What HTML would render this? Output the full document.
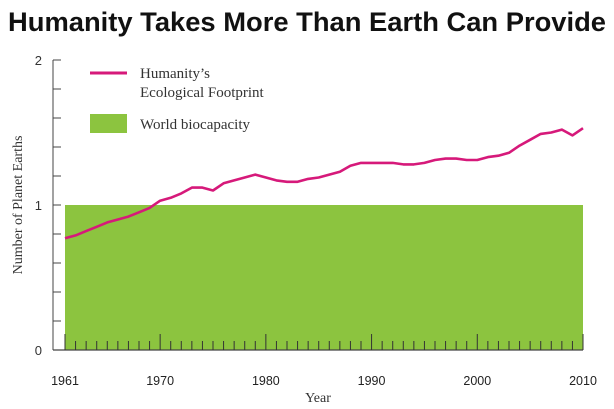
<!DOCTYPE html>
<html><head><meta charset="utf-8"><style>
html,body{margin:0;padding:0;background:#fff;}
svg{display:block;}
</style></head><body>
<svg id="chart" width="614" height="409" viewBox="0 0 614 409" xmlns="http://www.w3.org/2000/svg">
<text x="8" y="31" font-family="Liberation Sans, sans-serif" font-weight="bold" font-size="27" textLength="598" lengthAdjust="spacingAndGlyphs" fill="#111">Humanity Takes More Than Earth Can Provide</text>
<g id="plot"></g>
<g>
<line x1="90" y1="73" x2="127" y2="73" stroke="#d6197a" stroke-width="3"/>
<text x="140" y="78" font-family="Liberation Serif, serif" font-size="15" fill="#333">Humanity’s</text>
<text x="140" y="97" font-family="Liberation Serif, serif" font-size="15" fill="#333">Ecological Footprint</text>
<rect x="90" y="114" width="37" height="19" fill="#8cc43f"/>
<text x="140" y="129" font-family="Liberation Serif, serif" font-size="15" fill="#333">World biocapacity</text>
</g>
<text transform="translate(22,205) rotate(-90)" text-anchor="middle" font-family="Liberation Serif, serif" font-size="14" fill="#333">Number of Planet Earths</text>
<text x="318" y="402" text-anchor="middle" font-family="Liberation Serif, serif" font-size="14" fill="#333">Year</text>
</svg>
<script>
const years=[1961,1962,1963,1964,1965,1966,1967,1968,1969,1970,1971,1972,1973,1974,1975,1976,1977,1978,1979,1980,1981,1982,1983,1984,1985,1986,1987,1988,1989,1990,1991,1992,1993,1994,1995,1996,1997,1998,1999,2000,2001,2002,2003,2004,2005,2006,2007,2008,2009,2010];
const footprint=[0.77,0.79,0.82,0.85,0.88,0.90,0.92,0.95,0.98,1.03,1.05,1.08,1.12,1.12,1.10,1.15,1.17,1.19,1.21,1.19,1.17,1.16,1.16,1.18,1.19,1.21,1.23,1.27,1.29,1.29,1.29,1.29,1.28,1.28,1.29,1.31,1.32,1.32,1.31,1.31,1.33,1.34,1.36,1.41,1.45,1.49,1.50,1.52,1.48,1.53];
const biocapacity=[1.0];
const yTickLabels=["0","1","2"];
const xTickLabels=["1961","1970","1980","1990","2000","2010"];
const NS="http://www.w3.org/2000/svg";
const plot=document.getElementById('plot');
function xs(y){return 65+(y-1961)*(518/49);}
function ys(v){return 350-v*145;}
function mk(t,a,p){const e=document.createElementNS(NS,t);for(const k in a)e.setAttribute(k,a[k]);(p||plot).appendChild(e);return e;}
const area=mk('rect',{x:xs(1961),y:ys(biocapacity[0]),width:xs(2010)-xs(1961),height:ys(0)-ys(biocapacity[0]),fill:'#8cc43f'});


const ya=mk('line',{x1:53,y1:ys(2),x2:53,y2:ys(0),stroke:'#444','stroke-width':1});


const xa=mk('line',{x1:53,y1:ys(0),x2:xs(2010),y2:ys(0),stroke:'#444','stroke-width':1.2});


for(let v=0.2;v<2.01;v+=0.2){
  const t=mk('line',{x1:53,y1:ys(v),x2:61,y2:ys(v),stroke:'#444','stroke-width':1});
  
  
}
yTickLabels.forEach(l=>{
  const t=mk('text',{x:42,y:ys(+l)+5,'text-anchor':'end','font-family':'Liberation Sans, sans-serif','font-size':13,fill:'#333'});
  t.textContent=l;
  
  
});
years.forEach(y=>{
  const major=(y%10===0)||y===1961||y===2010;
  const t=mk('line',{x1:xs(y),y1:ys(0),x2:xs(y),y2:ys(0)-(major?16:9),stroke:'#333','stroke-width':1});
  
  
});
xTickLabels.forEach(l=>{
  const t=mk('text',{x:xs(+l),y:385,'text-anchor':'middle','font-family':'Liberation Sans, sans-serif','font-size':12.5,fill:'#222'});
  t.textContent=l;
  
  
});
const line=mk('polyline',{points:years.map((y,i)=>xs(y).toFixed(1)+','+ys(footprint[i]).toFixed(1)).join(' '),fill:'none',stroke:'#d6197a','stroke-width':2.6,'stroke-linejoin':'round'});


</script>
</body></html>
